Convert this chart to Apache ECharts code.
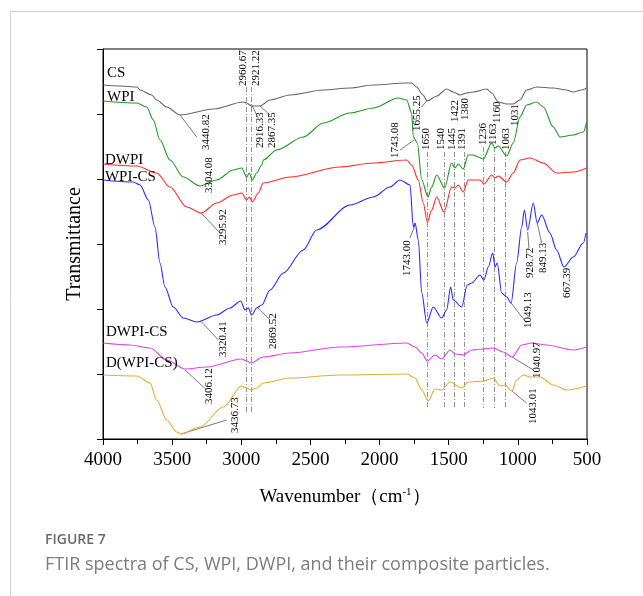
<!DOCTYPE html>
<html>
<head>
<meta charset="utf-8">
<script src="https://cdn.jsdelivr.net/npm/echarts@6/dist/echarts.min.js"></script>
<style>
  html, body { margin: 0; padding: 0; background: #fff; }
  #main { width: 643px; height: 596px; }
</style>
</head>
<body>
<div id="main"></div>
<script>
// spectra: [wavenumber cm-1, transmittance (a.u.)]
const cs = [[3998,354],[3870,353],[3756,352],[3732,349],[3648,344],[3612,339],[3539,332],[3443,324],
  [3200,330],[2986,337],[2961,336],[2925,333],[2865,333],[2792,339],[2648,344],[2409,349],[2214,351],
  [2048,354],[1804,356],[1768,356],[1732,352],[1686,344],[1655,338],[1587,343],[1515,350],[1467,347],
  [1419,344],[1370,346],[1322,347],[1225,350],[1189,346],[1142,337],[1081,335],[1033,335],[985,339],
  [936,349],[864,352],[744,351],[650,349],[599,347],[540,349],[502,351]];

const wpi = [[3998,338],[3756,336],[3684,332],[3636,319],[3588,299],[3516,279],[3419,262],[3299,253],
  [3178,259],[3058,269],[2997,271],[2961,262],[2942,266],[2920,259],[2889,266],[2852,274],[2841,279],
  [2744,289],[2552,302],[2407,316],[2214,326],[2045,331],[1865,341],[1804,339],[1768,326],[1756,302],
  [1727,296],[1695,259],[1650,242],[1623,252],[1587,264],[1530,251],[1479,276],[1455,271],[1431,275],
  [1395,270],[1359,284],[1322,284],[1286,282],[1250,280],[1189,296],[1165,291],[1142,293],[1081,283],
  [1033,296],[985,322],[936,334],[864,337],[816,332],[744,312],[695,302],[599,304],[527,307],[502,317]];

const dwpi = [[3998,275],[3756,273],[3612,266],[3516,252],[3395,232],[3290,226],[3178,236],[3058,244],
  [2997,246],[2961,239],[2942,242],[2920,237],[2877,246],[2841,256],[2648,262],[2286,272],[2045,276],
  [1804,279],[1768,274],[1720,259],[1684,236],[1655,217],[1623,229],[1587,242],[1534,227],[1479,252],
  [1455,251],[1431,254],[1395,247],[1359,259],[1274,259],[1245,255],[1189,264],[1165,261],[1142,263],
  [1081,257],[1033,266],[985,279],[912,281],[816,276],[720,266],[599,267],[502,271]];

const wpiCs = [[3998,259],[3781,257],[3732,254],[3672,239],[3624,212],[3588,176],[3552,152],[3492,132],
  [3419,121],[3320,117],[3178,124],[3082,131],[3004,138],[2973,129],[2949,131],[2925,124],[2889,131],
  [2852,134],[2792,149],[2696,166],[2552,189],[2455,209],[2214,234],[2045,242],[1925,252],[1852,259],
  [1780,254],[1756,212],[1743,216],[1720,199],[1695,146],[1659,116],[1612,132],[1551,121],[1515,129],
  [1486,152],[1467,139],[1406,132],[1366,154],[1334,156],[1274,164],[1245,159],[1214,172],[1182,186],
  [1165,172],[1149,176],[1117,146],[1081,142],[1049,136],[1009,176],[972,212],[953,229],[929,209],
  [889,236],[860,216],[828,224],[768,206],[720,189],[667,172],[599,182],[527,196],[507,206]];

const dwpiCs = [[3998,96],[3805,94],[3660,91],[3539,79],[3406,70],[3250,72],[2997,80],[2961,78],
  [2930,76],[2841,82],[2648,86],[2286,92],[1804,96],[1744,92],[1695,86],[1655,78],[1599,84],[1551,80],
  [1491,89],[1455,85],[1395,84],[1334,89],[1250,90],[1178,91],[1106,87],[1041,82],[972,94],[900,96],
  [792,94],[599,89],[502,92]];

const dWpiCs = [[3998,64],[3756,63],[3660,56],[3612,39],[3539,19],[3467,7],[3437,5],[3299,12],[3130,32],
  [2997,53],[2961,51],[2930,49],[2889,51],[2841,56],[2648,61],[2286,64],[1804,65],[1744,61],[1695,49],
  [1648,38],[1599,50],[1551,49],[1491,57],[1406,51],[1359,57],[1250,58],[1178,61],[1129,53],[1093,54],
  [1043,48],[1009,59],[961,64],[912,62],[840,62],[744,54],[647,49],[502,53]];

const seriesNames = ['CS', 'WPI', 'DWPI', 'WPI-CS', 'DWPI-CS', 'D(WPI-CS)'];
const seriesColors = ['#666666', '#1f9a1f', '#ff2a2a', '#2a2aff', '#e040ee', '#e8ac30'];
const seriesData = [cs, wpi, dwpi, wpiCs, dwpiCs, dWpiCs];
// where each name sits: [wavenumber, transmittance]
const nameSpots = [[3971,366],[3971,342],[3986,279],[3986,262],[3978,107],[3978,76]];

const xTicks = [4000, 3500, 3000, 2500, 2000, 1500, 1000, 500];

// peak labels: [text, wavenumber, transmittance] at the foot of the rotated text
const peakLabels = [
  ['3440.82',3255,289],['3304.08',3234,246],['2960.67',2984,353],['2921.22',2890,353],
  ['2916.33',2865,291],['2867.35',2774,291],['3295.92',3132,194],['3320.41',3129,82],
  ['2869.52',2767,90],['3406.12',3234,35],['3436.73',3042,6],['1743.08',1885,281],
  ['1655.25',1726,308],['1650',1664,289],['1540',1552,289],['1445',1476,289],['1391',1400,289],
  ['1422',1451,317],['1380',1379,319],['1236',1252,294],['1163',1178,294],['1160',1149,316],
  ['1063',1088,289],['1031',1021,313],['1743.00',1804,163],['928.72',912,161],['849.13',816,166],
  ['667.39',647,141],['1049.13',925,111],['1040.97',862,61],['1043.01',889,15]
];

// dash-dot guide lines: [wavenumber, top, bottom]
const guides = [[2961,352,25],[2925,352,25],[1655,287,31],[1534,287,31],[1460,287,31],
  [1390,287,31],[1250,292,31],[1170,292,31],[1088,287,31]];

// leader lines from peak to label
const leaders = [
  [[3443,324],[3322,302]],[[2925,334],[2877,321]],[[2865,333],[2792,324]],
  [[3290,226],[3154,206]],[[3286,117],[3166,99]],[[2877,131],[2792,119]],
  [[3407,69],[3250,49]],[[3437,5],[3106,19]],[[1751,299],[1852,289]],
  [[1655,339],[1696,332]],[[1743,214],[1780,201]],[[929,207],[920,191]],
  [[860,216],[828,196]],[[1049,136],[937,116]],[[1041,82],[889,69]],[[1043,48],[937,36]]
];

const serif = '"Liberation Serif", "Times New Roman", serif';

const chart = echarts.init(document.getElementById('main'));

const option = {
  animation: false,
  grid: { left: 103, right: 56, top: 49, bottom: 157, show: true, borderColor: '#000', borderWidth: 1 },
  xAxis: {
    type: 'value', inverse: true, min: 500, max: 4000, interval: 500,
    name: '{a|Wavenumber（cm}{s|-1}{a|）}', nameLocation: 'middle', nameGap: 48,
    nameTextStyle: { rich: {
      a: { fontFamily: serif, fontSize: 19, color: '#000' },
      s: { fontFamily: serif, fontSize: 11, color: '#000', verticalAlign: 'bottom', padding: [0, 0, 9, 0] }
    } },
    axisLine: { lineStyle: { color: '#000', width: 1 } },
    axisTick: { inside: false, length: 6, lineStyle: { color: '#000' } },
    minorTick: { show: true, splitNumber: 2, length: 5, lineStyle: { color: '#000' } },
    splitLine: { show: false },
    axisLabel: { fontFamily: serif, fontSize: 19, color: '#000', margin: 12,
      formatter: v => xTicks.includes(v) ? String(v) : '' }
  },
  yAxis: {
    type: 'value', min: 0, max: 390, interval: 65,
    name: 'Transmittance', nameLocation: 'middle', nameGap: 18,
    nameTextStyle: { fontFamily: serif, fontSize: 20, color: '#000' },
    axisLine: { show: true, lineStyle: { color: '#000', width: 1 } },
    axisTick: { show: true, inside: false, length: 6, lineStyle: { color: '#000' } },
    axisLabel: { show: false },
    splitLine: { show: false }
  },
  series: seriesData.map((d, i) => ({
    name: seriesNames[i], type: 'line', data: d, showSymbol: false, smooth: 0.3,
    smoothMonotone: 'x', lineStyle: { color: seriesColors[i], width: 1.1 }, z: 3
  })).concat([
    {
      type: 'lines', coordinateSystem: 'cartesian2d', silent: true, z: 2,
      lineStyle: { color: '#777', width: 0.8, type: [5, 2, 1, 2], opacity: 1 },
      data: guides.map(g => ({ coords: [[g[0], g[1]], [g[0], g[2]]] }))
    },
    {
      type: 'lines', coordinateSystem: 'cartesian2d', silent: true, z: 2,
      lineStyle: { color: '#555', width: 0.8, opacity: 1 },
      data: leaders.map(l => ({ coords: l }))
    }
  ])
};

chart.setOption(option);

const toPx = p => chart.convertToPixel({ gridIndex: 0 }, p);

const graphics = [
  { type: 'line', shape: { x1: 11, y1: 11.5, x2: 643, y2: 11.5 }, style: { stroke: '#cfcfcf', lineWidth: 1 } },
  { type: 'line', shape: { x1: 10.5, y1: 11, x2: 10.5, y2: 596 }, style: { stroke: '#cfcfcf', lineWidth: 1 } },
  { type: 'text', x: 45, y: 540, style: { text: 'FIGURE 7', font: '600 14px "Open Sans", sans-serif', fill: '#6a6a6a', verticalAlign: 'middle' } },
  { type: 'text', x: 45, y: 565, style: { text: 'FTIR spectra of CS, WPI, DWPI, and their composite particles.', font: '18px "Open Sans", sans-serif', fill: '#7c7c7c', verticalAlign: 'middle' } }
];

peakLabels.forEach(([t, w, v]) => {
  const [x, y] = toPx([w, v]);
  graphics.push({ type: 'text', x: x, y: y, rotation: Math.PI / 2, z: 10,
    style: { text: t, font: '11px ' + serif, fill: '#000', align: 'left', verticalAlign: 'middle' } });
});

nameSpots.forEach(([w, v], i) => {
  const [x, y] = toPx([w, v]);
  graphics.push({ type: 'text', x: x, y: y, z: 10,
    style: { text: seriesNames[i], font: '15px ' + serif, fill: '#000', align: 'left', verticalAlign: 'middle' } });
});

chart.setOption({ graphic: graphics });
</script>
</body>
</html>
